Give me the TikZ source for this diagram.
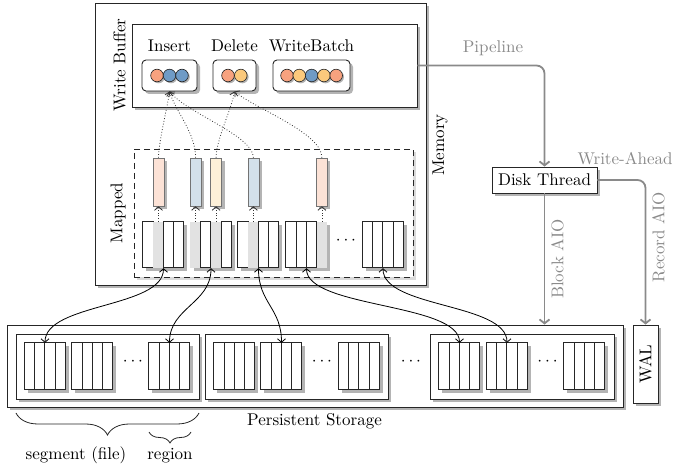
\documentclass[tikz,border=0pt]{standalone}
\usepackage{fontspec}
\setmainfont{lmroman10-regular.otf}
\usetikzlibrary{arrows.meta,shadows,calc,decorations.pathreplacing}
\definecolor{cOr}{HTML}{F7A27F}
\definecolor{cBl}{HTML}{6F9BC6}
\definecolor{cYe}{HTML}{FBC97C}
\definecolor{lOr}{HTML}{FCE2D6}
\definecolor{lBl}{HTML}{D3E0EA}
\definecolor{lYe}{HTML}{FDF0D8}
\definecolor{gcell}{HTML}{E2E2E2}
\definecolor{shdc}{HTML}{B4B4B4}
\definecolor{shdl}{HTML}{DADADA}
\definecolor{garr}{HTML}{8A8A8A}
\newcommand\cellrow[3]{%
  \foreach \g [count=\i from 0] in {#2} {%
    \ifnum\g=1
      \fill[gcell] ($(#1.north west)+(\i*10.25,0)$) rectangle ++(10.25,#3);
    \else
      \draw[cellst] ($(#1.north west)+(\i*10.25,0)$) rectangle ++(10.25,#3);
    \fi
  }}
\begin{document}
\begin{tikzpicture}[x=1pt,y=-1pt,font=\fontsize{17}{20}\selectfont,
  sh/.style={drop shadow={shadow xshift=3pt,shadow yshift=-3pt,fill=shdc,opacity=1}},
  frame/.style={draw=black!85,line width=0.9pt,fill=white,inner sep=0pt,sh},
  rbox/.style={frame,rounded corners=4pt},
  blk/.style={fill=white,inner sep=0pt,minimum width=41pt,sh},
  cellst/.style={draw=black!85,line width=0.7pt,fill=white},
  dot/.style={circle,draw=black!85,line width=0.6pt,minimum size=12.6pt,inner sep=0pt,
    drop shadow={shadow xshift=1.5pt,shadow yshift=-1.5pt,fill=black!30,opacity=1}},
  pg/.style={draw=black!55,line width=0.6pt,inner sep=0pt,minimum width=11pt,minimum height=48pt,sh},
  conn/.style={black,line width=0.8pt,{Straight Barb[length=3.5pt,width=8pt]}-{Straight Barb[length=3.5pt,width=8pt]}},
  dconn/.style={black!80,line width=0.8pt,dotted,-{Straight Barb[length=3.5pt,width=8pt]}},
  garrow/.style={garr,line width=1.8pt,rounded corners=8pt,-{Straight Barb[length=4pt,width=10pt]}},
  glabel/.style={text=garr,inner sep=0pt},
  lbl/.style={inner sep=0pt},
  dots/.style={inner sep=0pt}]
\useasboundingbox (0,0) rectangle (673,465);

% Memory
\node[frame,minimum width=331pt,minimum height=282pt] (mem) at (260.5,144) {};
\node[lbl,rotate=90] (memlbl) at (440,145) {Memory};

% Write buffer
\node[frame,minimum width=285pt,minimum height=83pt] (wb) at (274.5,65.5) {};
\node[lbl,rotate=90] (wblbl) at (119.5,65) {Write Buffer};
\node[lbl,anchor=base] (inslbl) at (169.5,52) {Insert};
\node[lbl,anchor=base] (dellbl) at (234.5,52) {Delete};
\node[lbl,anchor=base] (wbtlbl) at (311.5,52) {WriteBatch};
\node[rbox,minimum width=55pt,minimum height=31pt] (ins) at (169.5,75.5) {};
\node[rbox,minimum width=43pt,minimum height=31pt] (del) at (234.5,75.5) {};
\node[rbox,minimum width=77pt,minimum height=31pt] (wbt) at (311.5,75.5) {};
\foreach \x/\c [count=\k] in {157/cOr,169.5/cBl,182/cBl}
  \node[dot,fill=\c] (ci\k) at (\x,75.5) {};
\foreach \x/\c [count=\k] in {228/cOr,240.8/cYe}
  \node[dot,fill=\c] (cd\k) at (\x,75.5) {};
\foreach \x/\c [count=\k] in {287/cOr,299.3/cYe,311.6/cBl,323.9/cYe,336.2/cOr}
  \node[dot,fill=\c] (cw\k) at (\x,75.5) {};

% Mapped
\node[draw=black!85,line width=0.9pt,dash pattern=on 6pt off 4pt,fill=white,inner sep=0pt,
  minimum width=279pt,minimum height=128pt,
  drop shadow={shadow xshift=3pt,shadow yshift=-3pt,fill=shdl,opacity=1}] (map) at (273.5,213) {};
\node[lbl,rotate=90] (maplbl) at (118,213) {Mapped};

\node[blk,minimum height=46pt] (m1) at (163.5,245) {};
\node[blk,minimum height=46pt] (m2) at (211,245) {};
\node[blk,minimum height=46pt] (m3) at (258.5,245) {};
\node[blk,minimum height=46pt] (m4) at (306.5,245) {};
\node[blk,minimum height=46pt] (m5) at (383,245) {};
\cellrow{m1}{0,1,0,0}{46}
\cellrow{m2}{1,0,1,0}{46}
\cellrow{m3}{0,1,0,0}{46}
\cellrow{m4}{0,0,0,1}{46}
\cellrow{m5}{0,0,0,0}{46}
\node[dots] (mdots) at (346,241) {$\cdots$};

\node[pg,fill=lOr] (r1) at (158.5,182) {};
\node[pg,fill=lBl] (r2) at (195.6,182) {};
\node[pg,fill=lYe] (r3) at (216.1,182) {};
\node[pg,fill=lBl] (r4) at (253.4,182) {};
\node[pg,fill=lOr] (r5) at (321.9,182) {};

\draw[dconn] (r1.south |- m1.north) -- (r1.south);
\draw[dconn] (r2.south |- m2.north) -- (r2.south);
\draw[dconn] (r3.south |- m2.north) -- (r3.south);
\draw[dconn] (r4.south |- m3.north) -- (r4.south);
\draw[dconn] (r5.south |- m4.north) -- (r5.south);

\draw[dconn] (r1.north) .. controls +(0,-15) and +(-2,15) .. (ins.south);
\draw[dconn] (r2.north) .. controls +(0,-25) and +(6,20) .. (ins.south);
\draw[dconn] (r4.north) .. controls +(0,-22) and +(18,22) .. (ins.south);
\draw[dconn] (r3.north) .. controls +(0,-18) and +(-3,18) .. (del.south);
\draw[dconn] (r5.north) .. controls +(0,-25) and +(22,18) .. (del.south);

% Persistent storage
\node[frame,minimum width=616pt,minimum height=82pt] (ps) at (315,366) {};
\node[frame,minimum width=183pt,minimum height=65pt] (seg1) at (107.5,366.5) {};
\node[frame,minimum width=183pt,minimum height=65pt] (seg2) at (296.5,366.5) {};
\node[frame,minimum width=184pt,minimum height=65pt] (seg3) at (522,366.5) {};
\foreach \x [count=\k] in {45,92.5,169.5,234.5,281.5,359,459.5,507,584.5}
  \node[blk,minimum height=47pt] (s\k) at (\x,366.5) {};
\foreach \k in {1,...,9} {\cellrow{s\k}{0,0,0,0}{47}}
\node[dots] (sd1) at (133,362) {$\cdots$};
\node[dots] (sd2) at (322,362) {$\cdots$};
\node[dots] (sd3) at (411,362) {$\cdots$};
\node[dots] (sd4) at (547.5,362) {$\cdots$};
\node[lbl,anchor=base] (pslbl) at (314.5,426) {Persistent Storage};

% connectors memory <-> storage
\draw[conn] (m1.south) .. controls +(0,40) and +(0,-40) .. (s1.north);
\draw[conn] (m2.south) .. controls +(0,35) and +(0,-35) .. (s3.north);
\draw[conn] (m3.south) .. controls +(0,35) and +(0,-35) .. (s5.north);
\draw[conn] (m4.south) .. controls +(0,40) and +(0,-40) .. (s7.north);
\draw[conn] (m5.south) .. controls +(0,40) and +(0,-40) .. (s8.north);

% braces
\draw[black!85,line width=0.8pt,decorate,decoration={brace,amplitude=22pt}] (199,413) -- (16,413);
\draw[black!85,line width=0.8pt,decorate,decoration={brace,amplitude=11pt}] (191,432) -- (149,432);
\node[lbl,anchor=base] (seglbl) at (76,460) {segment (file)};
\node[lbl,anchor=base] (reglbl) at (170,460) {region};

% Disk thread and WAL
\node[frame,minimum width=105pt,minimum height=26pt] (dt) at (544.5,180) {Disk Thread};
\node[frame,minimum width=25pt,minimum height=78pt] (wal) at (645.5,364) {};
\node[lbl,rotate=90] (wallbl) at (wal.center) {WAL};

\draw[garrow] (wb.east) -| (dt.north);
\draw[garrow] (dt.east) -| (wal.north);
\draw[garrow] (dt.south) -- (dt.south |- ps.north);
\node[glabel,anchor=base] (pipelbl) at (493,53) {Pipeline};
\node[glabel,anchor=base] (walbl) at (625,165) {Write-Ahead};
\node[glabel,rotate=90] (blklbl) at (557.5,259) {Block AIO};
\node[glabel,rotate=90] (reclbl) at (658.5,237.5) {Record AIO};
\end{tikzpicture}
\end{document}
